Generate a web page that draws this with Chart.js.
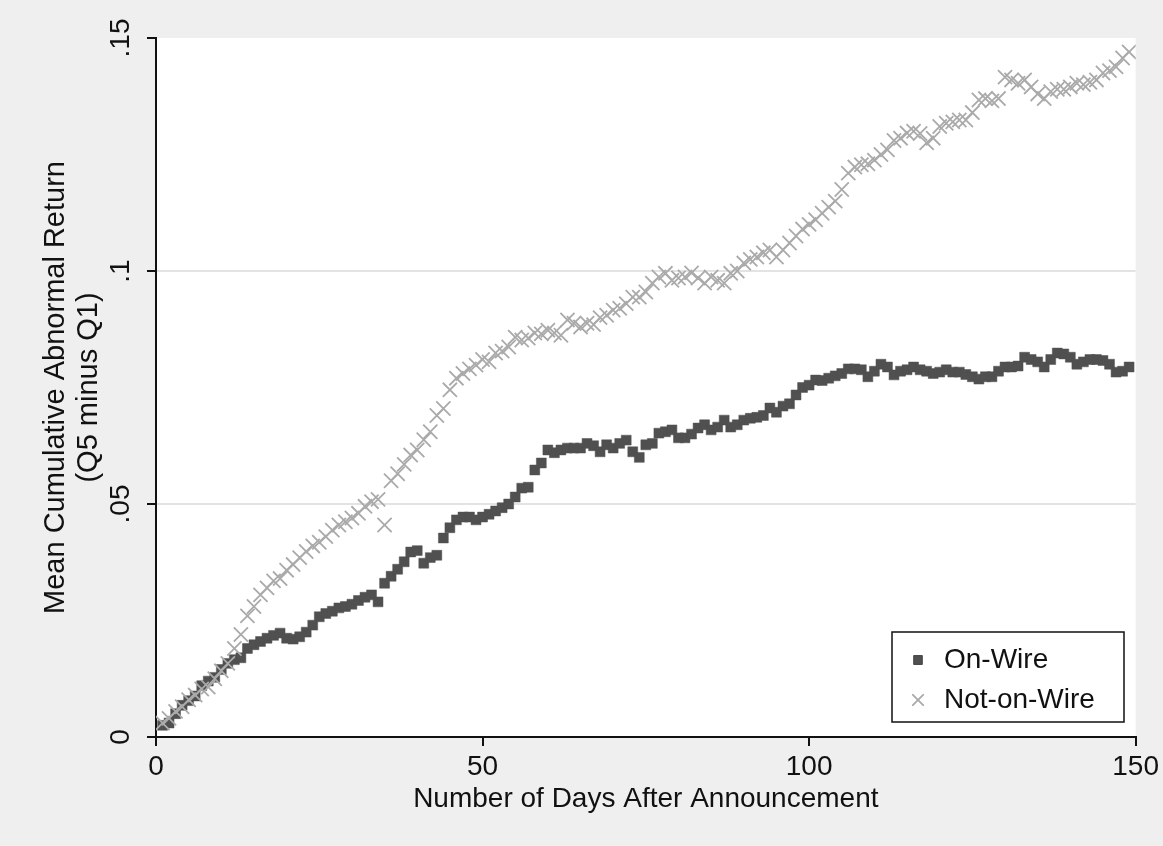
<!DOCTYPE html>
<html>
<head>
<meta charset="utf-8">
<script src="https://cdn.jsdelivr.net/npm/chart.js@4.4.1/dist/chart.umd.min.js"></script>
<style>
  html, body { margin: 0; padding: 0; background: #efefef; }
  canvas { display: block; }
</style>
</head>
<body>
<canvas id="grafico" width="1163" height="846"></canvas>
<script>
// Dias após o anúncio
const dias = [
  1, 2, 3, 4, 5, 6, 7, 8, 9, 10, 11, 12, 13, 14, 15, 16, 17, 18, 19, 20,
  21, 22, 23, 24, 25, 26, 27, 28, 29, 30, 31, 32, 33, 34, 35, 36, 37, 38, 39, 40,
  41, 42, 43, 44, 45, 46, 47, 48, 49, 50, 51, 52, 53, 54, 55, 56, 57, 58, 59, 60,
  61, 62, 63, 64, 65, 66, 67, 68, 69, 70, 71, 72, 73, 74, 75, 76, 77, 78, 79, 80,
  81, 82, 83, 84, 85, 86, 87, 88, 89, 90, 91, 92, 93, 94, 95, 96, 97, 98, 99, 100,
  101, 102, 103, 104, 105, 106, 107, 108, 109, 110, 111, 112, 113, 114, 115, 116, 117, 118, 119, 120,
  121, 122, 123, 124, 125, 126, 127, 128, 129, 130, 131, 132, 133, 134, 135, 136, 137, 138, 139, 140,
  141, 142, 143, 144, 145, 146, 147, 148, 149
]

const onWire = [
  0.0025, 0.003, 0.005, 0.0068, 0.0078, 0.0088, 0.011, 0.012, 0.0128, 0.0145,
  0.0158, 0.0166, 0.017, 0.019, 0.0198, 0.0205, 0.0212, 0.0218, 0.0223, 0.0212,
  0.021, 0.0215, 0.0225, 0.024, 0.0258, 0.0265, 0.027, 0.0277, 0.028, 0.0285,
  0.0293, 0.030, 0.0305, 0.029, 0.033, 0.0345, 0.036, 0.0376, 0.0397, 0.040,
  0.0373, 0.0385, 0.039, 0.0427, 0.0449, 0.0466, 0.0472, 0.0472, 0.0466, 0.0472,
  0.0478, 0.0485, 0.0492, 0.050, 0.0515, 0.0534, 0.0536, 0.0573, 0.0588, 0.0616,
  0.061, 0.0616, 0.062, 0.062, 0.062, 0.063, 0.0625, 0.0612, 0.0627, 0.062,
  0.063, 0.0637, 0.0612, 0.060, 0.0627, 0.063, 0.0652, 0.0655, 0.0659, 0.0642,
  0.0642, 0.065, 0.0663, 0.067, 0.0659, 0.0665, 0.068, 0.0665, 0.067, 0.068,
  0.0684, 0.0686, 0.069, 0.0706, 0.0697, 0.071, 0.0715, 0.0734, 0.075, 0.0755,
  0.0766, 0.0765, 0.077, 0.0775, 0.078, 0.079, 0.079, 0.0788, 0.0773, 0.0785,
  0.080, 0.0794, 0.0777, 0.0785, 0.0788, 0.0794, 0.0788, 0.0785, 0.078, 0.0783,
  0.0788, 0.0783, 0.0783, 0.0778, 0.0773, 0.0768, 0.0773, 0.0773, 0.0785, 0.0794,
  0.0794, 0.0796, 0.0815, 0.081, 0.0805, 0.0794, 0.081, 0.0824, 0.0822, 0.0815,
  0.080, 0.0805, 0.081, 0.081, 0.0808, 0.080, 0.0783, 0.0785, 0.0794
]

const notOnWire = [
  0.003, 0.004, 0.0055, 0.0065, 0.008, 0.009, 0.0103, 0.0107, 0.0125, 0.0142,
  0.0158, 0.019, 0.022, 0.026, 0.028, 0.0305, 0.032, 0.0335, 0.034, 0.0358,
  0.037, 0.0385, 0.0398, 0.041, 0.0418, 0.043, 0.0444, 0.0455, 0.0462, 0.047,
  0.048, 0.0495, 0.0505, 0.051, 0.0455, 0.055, 0.0565, 0.0585, 0.0605, 0.0616,
  0.0638, 0.0655, 0.069, 0.0705, 0.0745, 0.077, 0.078, 0.079, 0.0798, 0.081,
  0.0805, 0.0824, 0.0828, 0.0837, 0.0858, 0.0852, 0.0856, 0.0867, 0.0865, 0.0873,
  0.0867, 0.0862, 0.0895, 0.0888, 0.088, 0.0888, 0.0885, 0.090, 0.0905, 0.0916,
  0.092, 0.093, 0.0944, 0.0944, 0.0955, 0.0974, 0.0987, 0.0995, 0.098, 0.0985,
  0.0987, 0.0996, 0.0985, 0.0974, 0.0987, 0.098, 0.0974, 0.0995, 0.100, 0.1017,
  0.1025, 0.103, 0.1039, 0.1045, 0.103, 0.1045, 0.106, 0.1075, 0.109, 0.110,
  0.111, 0.1124, 0.1137, 0.115, 0.1175, 0.121, 0.1223, 0.1228, 0.123, 0.1238,
  0.125, 0.126, 0.128, 0.1285, 0.1296, 0.130, 0.1295, 0.1275, 0.1285, 0.131,
  0.1317, 0.132, 0.1324, 0.1324, 0.134, 0.1367, 0.137, 0.1365, 0.137, 0.1416,
  0.141, 0.1403, 0.141, 0.1395, 0.138, 0.137, 0.1385, 0.139, 0.139, 0.1395,
  0.1403, 0.140, 0.1405, 0.141, 0.1425, 0.143, 0.1438, 0.1457, 0.147
]

const xTicks = [0, 50, 100, 150]
const yTicks = [0, 0.05, 0.1, 0.15]
const yTickLabels = ['0', '.05', '.1', '.15']

const fonte = "'Liberation Sans', Arial, sans-serif"
const corTexto = '#111'

// Fundo cinza + área do gráfico branca
const fundo = {
  id: 'fundo',
  beforeDraw(chart) {
    const { ctx, chartArea: a } = chart
    ctx.save()
    ctx.fillStyle = '#efefef'
    ctx.fillRect(0, 0, chart.width, chart.height)
    ctx.fillStyle = '#ffffff'
    ctx.fillRect(a.left, a.top, a.right - a.left, a.bottom - a.top)
    ctx.restore()
  }
}

// Rótulos verticais do eixo y (estilo Stata)
const rotulosY = {
  id: 'rotulosY',
  afterDraw(chart) {
    const { ctx } = chart
    const y = chart.scales.y
    ctx.save()
    ctx.fillStyle = corTexto
    ctx.font = `28px ${fonte}`
    ctx.textAlign = 'center'
    ctx.textBaseline = 'alphabetic'
    y.ticks.forEach((t, i) => {
      const py = y.getPixelForValue(t.value)
      ctx.save()
      ctx.translate(129, py)
      ctx.rotate(-Math.PI / 2)
      ctx.fillText(yTickLabels[i], 0, 0)
      ctx.restore()
    })
    ctx.restore()
  }
}

// Legenda dentro da área do gráfico
const legenda = {
  id: 'legenda',
  afterDraw(chart) {
    const { ctx } = chart
    const x0 = 892, y0 = 632, w = 232, h = 90
    ctx.save()
    ctx.fillStyle = '#fff'
    ctx.fillRect(x0, y0, w, h)
    ctx.strokeStyle = '#111'
    ctx.lineWidth = 1.5
    ctx.strokeRect(x0, y0, w, h)
    ctx.font = `28px ${fonte}`
    ctx.textBaseline = 'middle'
    ctx.textAlign = 'left'
    chart.data.datasets.forEach((ds, i) => {
      const cy = y0 + 28 + i * 40
      Chart.helpers.drawPoint(ctx, {
        pointStyle: ds.pointStyle,
        radius: i === 0 ? 5.5 : 8,
        borderWidth: ds.pointBorderWidth
      }, x0 + 26, cy)
      ctx.fillStyle = ds.pointBackgroundColor
      ctx.strokeStyle = ds.pointBorderColor
      ctx.lineWidth = ds.pointBorderWidth
      if (ds.pointStyle === 'rect') ctx.fill()
      ctx.stroke()
      ctx.fillStyle = corTexto
      ctx.fillText(ds.label, x0 + 52, cy)
    })
    ctx.restore()
  }
}

const ctx = document.getElementById('grafico').getContext('2d')

const grafico = new Chart(ctx, {
  type: 'scatter',
  data: {
    datasets: [
      {
        label: 'On-Wire',
        data: dias.map((d, i) => ({ x: d, y: onWire[i] })),
        pointStyle: 'rect',
        pointRadius: 7,
        pointBackgroundColor: '#505050',
        pointBorderColor: '#505050',
        pointBorderWidth: 0.5,
        order: 2
      },
      {
        label: 'Not-on-Wire',
        data: dias.map((d, i) => ({ x: d, y: notOnWire[i] })),
        pointStyle: 'crossRot',
        pointRadius: 10,
        pointBackgroundColor: '#aaaaaa',
        pointBorderColor: '#aaaaaa',
        pointBorderWidth: 1.8,
        order: 1
      }
    ]
  },
  options: {
    responsive: false,
    animation: false,
    events: [],
    layout: { padding: { top: 38, right: 26, left: 0, bottom: 0 } },
    plugins: {
      legend: { display: false },
      tooltip: { enabled: false }
    },
    scales: {
      x: {
        type: 'linear',
        min: 0,
        max: 150,
        afterBuildTicks: s => { s.ticks = xTicks.map(v => ({ value: v })) },
        afterFit: s => { s.height = 109 },
        border: { color: '#111', width: 2 },
        grid: { drawOnChartArea: false, tickColor: '#111', tickLength: 9, lineWidth: 2 },
        ticks: {
          color: corTexto,
          font: { family: fonte, size: 28 },
          padding: 4,
          maxRotation: 0,
          callback: v => String(v)
        },
        title: {
          display: true,
          text: 'Number of Days After Announcement',
          color: corTexto,
          font: { family: fonte, size: 28 },
          padding: { top: 0, bottom: 30 }
        }
      },
      y: {
        min: 0,
        max: 0.15,
        afterBuildTicks: s => { s.ticks = yTicks.map(v => ({ value: v })) },
        afterFit: s => { s.width = 156 },
        border: { color: '#111', width: 2 },
        grid: {
          color: c => (c.tick && c.tick.value > 0 && c.tick.value < 0.15) ? '#e3e3e3' : 'rgba(0,0,0,0)',
          lineWidth: 2,
          tickColor: '#111',
          tickLength: 9
        },
        ticks: { display: false },
        title: {
          display: true,
          text: ['Mean Cumulative Abnormal Return', '(Q5 minus Q1)'],
          color: corTexto,
          font: { family: fonte, size: 29, lineHeight: 1.12 },
          padding: { top: 40, bottom: 0 }
        }
      }
    }
  },
  plugins: [fundo, rotulosY, legenda]
})
</script>
</body>
</html>
